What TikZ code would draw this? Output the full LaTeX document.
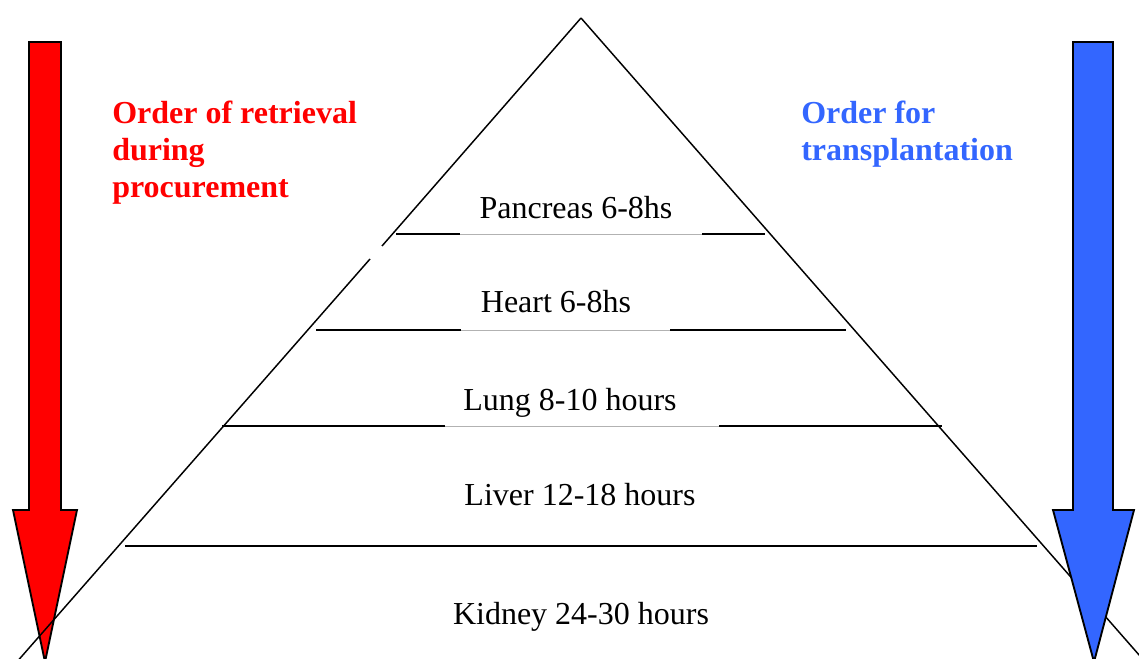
\documentclass[tikz,border=0pt]{standalone}
\usepackage{fontspec}
\setmainfont{Liberation Serif}
\definecolor{retrievalred}{RGB}{255,0,0}
\definecolor{transplantblue}{RGB}{51,102,255}

\begin{document}
\begin{tikzpicture}
      [x = 0.75pt, y = -0.75pt,
      side/.style={line width = 1.1},
      tier/.style={line width = 1.5},
      faint/.style={draw = gray!60, line width = 0.7},
      organ/.style={
         font = \fontsize{24}{28}\selectfont,
         inner sep = 0pt,
         anchor = base
      },
      order/.style={
         font = \fontsize{24}{27.6}\selectfont\bfseries,
         align = left,
         inner sep = 0pt,
         anchor = north west
      },
      bigarrow/.style={draw = black, line width = 1.4, line join = miter}]

      \useasboundingbox (0, 0) rectangle (1139, 659);
      \clip (0, 0) rectangle (1139, 659);

      % retrieval arrow, left
      \filldraw[bigarrow, fill = retrievalred]
         (29, 42) -- (61, 42) -- (61, 510) -- (77, 510) -- (45, 662)
         -- (13, 510) -- (29, 510) -- cycle;

      % pyramid sides
      \coordinate (apex) at (581, 18);
      \coordinate (gapTop) at (382, 246);
      \coordinate (gapBottom) at (370, 259);
      \draw[side] (apex) -- (gapTop);
      \draw[side] (gapBottom) -- (1, 680);
      \draw[side] (apex) -- (1161, 680);

      % tiers
      \draw[faint] (396, 234) -- (765, 234);
      \draw[tier] (396, 234) -- (460, 234);
      \draw[tier] (702, 234) -- (765, 234);

      \draw[faint] (316, 330) -- (846, 330);
      \draw[tier] (316, 330) -- (461, 330);
      \draw[tier] (670, 330) -- (846, 330);

      \draw[faint] (222, 426) -- (942, 426);
      \draw[tier] (222, 426) -- (445, 426);
      \draw[tier] (719, 426) -- (942, 426);

      \draw[tier] (125, 546) -- (1037, 546);

      % organ labels
      \node[organ] (pancreas) at (576, 219) {Pancreas 6-8hs};
      \node[organ] (heart) at (556, 313) {Heart 6-8hs};
      \node[organ] (lung) at (570, 410) {Lung 8-10 hours};
      \node[organ] (liver) at (580, 505) {Liver 12-18 hours};
      \node[organ] (kidney) at (581, 624) {Kidney 24-30 hours};

      % transplantation arrow, right
      \filldraw[bigarrow, fill = transplantblue]
         (1073, 42) -- (1113, 42) -- (1113, 510) -- (1134, 510) -- (1094, 662)
         -- (1053, 510) -- (1073, 510) -- cycle;

      \node[order, text = retrievalred] (retrieval) at (112, 101)
         {Order of retrieval\\during\\procurement};
      \node[order, text = transplantblue] (transplant) at (801, 101)
         {Order for\\transplantation};

   \end{tikzpicture}
\end{document}
